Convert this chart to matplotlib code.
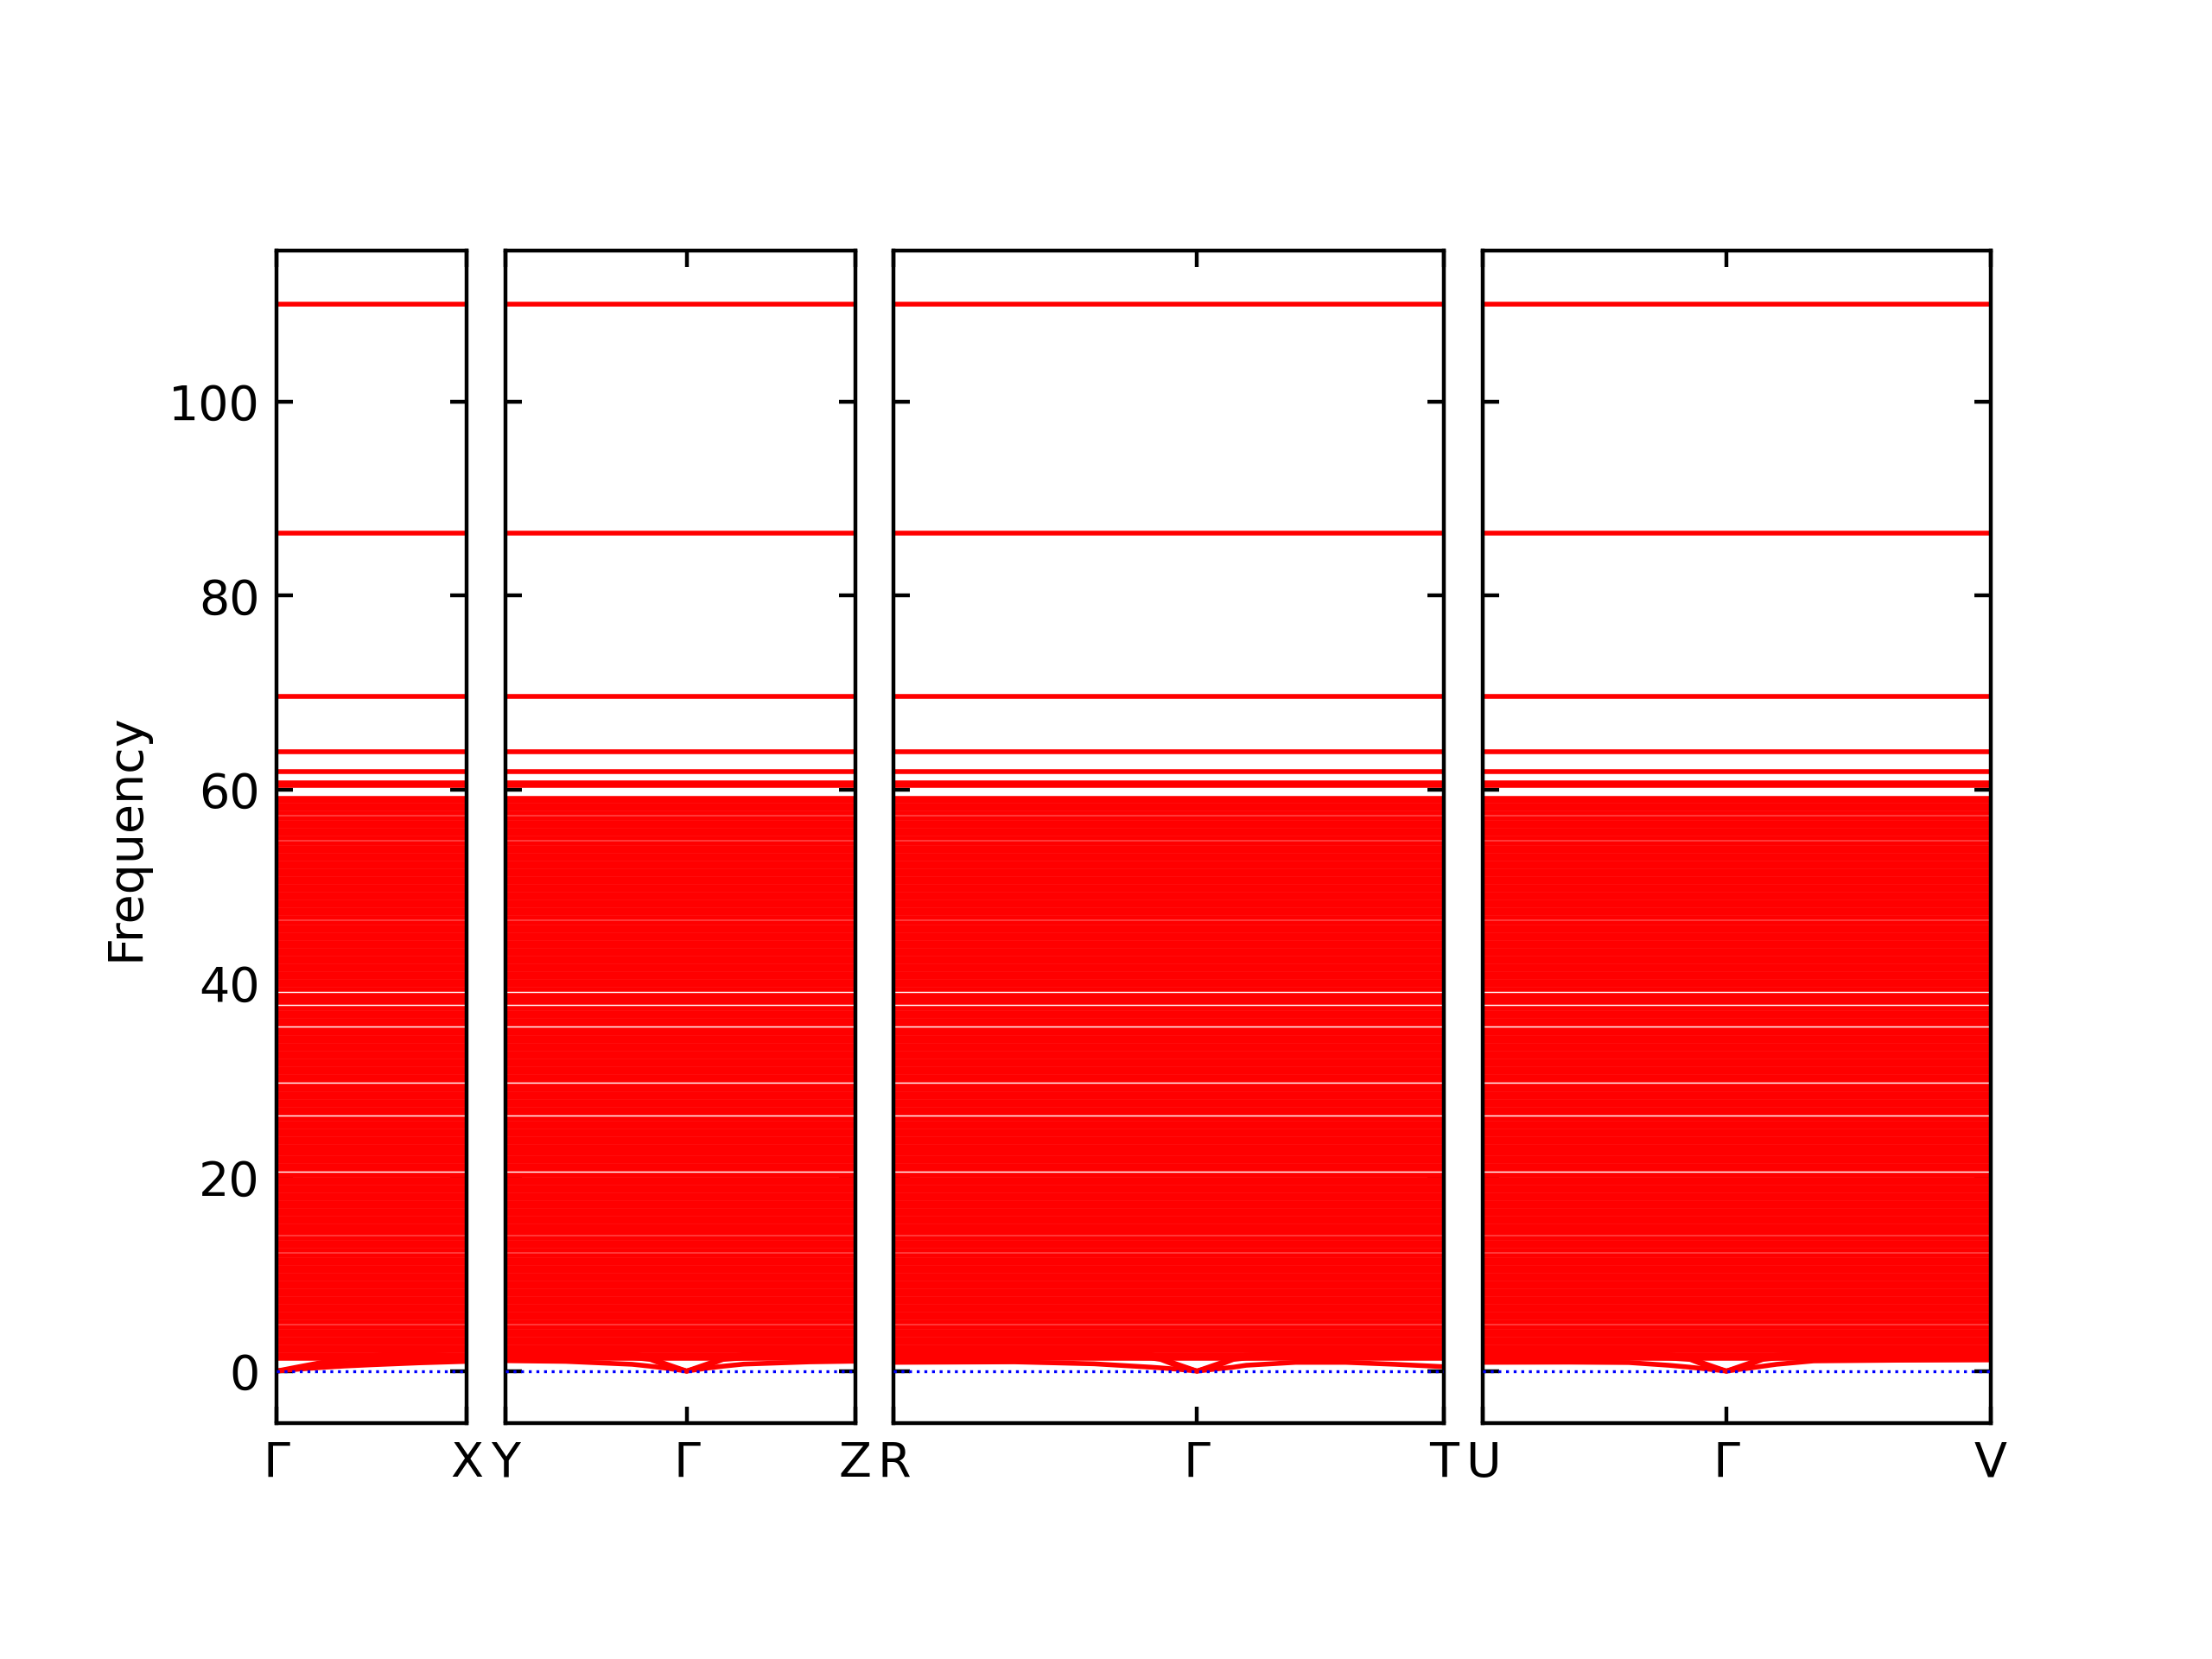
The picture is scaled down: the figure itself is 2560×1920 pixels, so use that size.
import numpy as np
import matplotlib
matplotlib.use('Agg')
import matplotlib.pyplot as plt

# 高对称点标签和路径长度（每个子图一段路径）
panel_labels = [['Γ', 'X'], ['Y', 'Γ', 'Z'], ['R', 'Γ', 'T'], ['U', 'Γ', 'V']]
panel_ticks = [[0, 0.220], [0, 0.210, 0.405], [0, 0.351, 0.637], [0, 0.282, 0.588]]

# 光学支（近似平直），单位与纵轴一致
optical_dense = [
    1.3, 1.7, 2.1, 2.5, 2.9, 3.3, 3.7, 4.1, 4.5, 5.1, 5.5, 5.9, 6.3, 6.7, 7.1, 7.5, 7.9, 8.3, 8.7, 9.1,
    9.5, 9.9, 10.3, 10.7, 11.1, 11.5, 11.9, 12.5, 12.9, 13.3, 13.7, 14.2, 14.6, 15.0, 15.4, 15.8, 16.2, 16.6, 17.0, 17.4,
    17.8, 18.2, 18.6, 19.0, 19.4, 19.8, 20.2, 20.8, 21.2, 21.6, 22.0, 22.4, 22.8, 23.2, 23.6, 24.0, 24.4, 24.8, 25.2, 25.6,
    26.0, 26.6, 27.0, 27.4, 27.8, 28.2, 28.6, 29.0, 29.4, 30.0, 30.4, 30.8, 31.2, 31.6, 32.0, 32.4, 32.8, 33.2, 33.6, 34.0,
    34.4, 34.8, 35.2, 35.8, 36.2, 36.6, 37.0, 37.4, 38.0, 38.4, 38.8, 39.4, 39.8, 40.2, 40.6, 41.0, 41.4, 41.8, 42.2, 42.6,
    43.0, 43.4, 43.8, 44.2, 44.6, 45.0, 45.4, 45.8, 46.2, 46.8, 47.2, 47.6, 48.0, 48.4, 48.8, 49.2, 49.6, 50.0, 50.4, 50.8,
    51.2, 51.6, 52.0, 52.4, 52.8, 53.2, 53.6, 54.0, 54.4, 55.0, 55.4, 55.8, 56.2, 56.6, 57.0, 57.6, 58.0, 58.4, 58.8, 59.1,
]
optical_upper = [60.45, 60.7, 61.8, 63.9, 69.6, 86.45, 110.1]

# 声学支：每个子图的 k 点和三条声学支频率
acoustic_k = [
    [0, 0.026, 0.053, 0.079, 0.110, 0.165, 0.220],
    [0, 0.070, 0.147, 0.168, 0.184, 0.210, 0.236, 0.252, 0.276, 0.352, 0.405],
    [0, 0.140, 0.232, 0.298, 0.309, 0.325, 0.351, 0.377, 0.393, 0.408, 0.465, 0.523, 0.580, 0.637],
    [0, 0.100, 0.169, 0.215, 0.240, 0.256, 0.282, 0.308, 0.324, 0.340, 0.383, 0.480, 0.588],
]
acoustic_ta1 = [
    [0, 0.20, 0.38, 0.52, 0.65, 0.85, 1.00],
    [1.07, 1.00, 0.70, 0.50, 0.33, 0, 0.33, 0.50, 0.72, 0.95, 1.02],
    [0.90, 0.95, 0.75, 0.40, 0.33, 0.22, 0, 0.25, 0.40, 0.60, 0.90, 0.90, 0.70, 0.45],
    [0.90, 0.92, 0.88, 0.60, 0.40, 0.25, 0, 0.30, 0.50, 0.70, 1.05, 1.12, 1.15],
]
acoustic_ta2 = [
    [0, 0.30, 0.60, 0.85, 1.05, 1.25, 1.35],
    [1.50, 1.45, 1.40, 1.20, 0.65, 0, 0.65, 1.20, 1.35, 1.45, 1.50],
    [1.50, 1.50, 1.45, 1.35, 1.20, 0.65, 0, 0.65, 1.20, 1.35, 1.45, 1.50, 1.50, 1.50],
    [1.50, 1.50, 1.45, 1.35, 1.20, 0.65, 0, 0.65, 1.20, 1.35, 1.45, 1.50, 1.50],
]
acoustic_la = [
    [0, 0.45, 0.90, 1.30, 1.60, 2.00, 2.30],
    [2.00, 1.95, 1.80, 1.45, 0.80, 0, 0.80, 1.45, 1.70, 1.90, 2.00],
    [2.00, 2.00, 1.90, 1.70, 1.45, 0.80, 0, 0.80, 1.45, 1.65, 1.85, 1.95, 2.00, 2.00],
    [2.00, 2.00, 1.90, 1.70, 1.45, 0.80, 0, 0.80, 1.45, 1.65, 1.85, 1.95, 2.00],
]

y_ticks = [0, 20, 40, 60, 80, 100]
y_range = (-5.4, 115.6)


def plot_bands():
    """绘制声子能带图"""
    widths = [t[-1] for t in panel_ticks]
    fig = plt.figure(figsize=(6.4, 4.8))
    gs = fig.add_gridspec(1, 4, width_ratios=widths, wspace=0.0966,
                          left=0.125, right=0.9, top=0.849, bottom=0.142)

    for i in range(4):
        ax = fig.add_subplot(gs[0, i])
        kmax = panel_ticks[i][-1]

        # 光学支
        for f in optical_dense + optical_upper:
            ax.plot([0, kmax], [f, f], color='red', lw=1.0)

        # 声学支
        k = acoustic_k[i]
        for branch in (acoustic_ta1, acoustic_ta2, acoustic_la):
            ax.plot(k, branch[i], color='red', lw=1.0)

        # 零频率参考线
        ax.axhline(0, color='blue', ls=':', lw=0.6, zorder=5)

        ax.set_xlim(0, kmax)
        ax.set_ylim(*y_range)
        ax.set_xticks(panel_ticks[i])
        ax.set_xticklabels(panel_labels[i])
        ax.set_yticks(y_ticks)
        ax.tick_params(direction='in', top=True, right=True)
        if i == 0:
            ax.set_ylabel('Frequency')
        else:
            ax.set_yticklabels([])

    plt.savefig('out.png', dpi=400)


if __name__ == "__main__":
    plot_bands()
